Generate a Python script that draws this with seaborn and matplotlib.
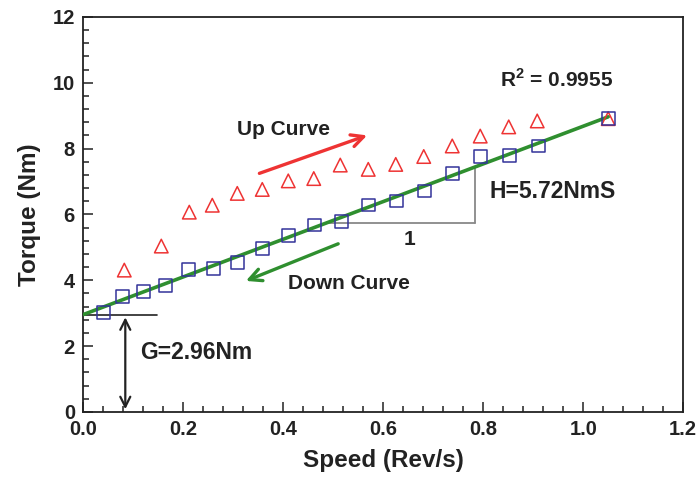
import matplotlib
matplotlib.use("Agg")
import matplotlib.pyplot as plt
from matplotlib.ticker import MultipleLocator
import numpy as np
import pandas as pd
import seaborn as sns

# ---- data ----
down_speed = [0.040, 0.078, 0.121, 0.164, 0.211, 0.260, 0.308, 0.358, 0.410, 0.462,
              0.516, 0.571, 0.626, 0.682, 0.738, 0.795, 0.852, 0.910, 1.050]
down_torque = [3.02, 3.50, 3.65, 3.85, 4.32, 4.35, 4.55, 4.97, 5.37, 5.68,
               5.78, 6.29, 6.41, 6.71, 7.24, 7.76, 7.78, 8.08, 8.91]
up_speed = [0.082, 0.156, 0.212, 0.258, 0.308, 0.358, 0.410, 0.461, 0.514, 0.570,
            0.625, 0.681, 0.738, 0.794, 0.851, 0.908, 1.050]
up_torque = [4.31, 5.04, 6.07, 6.28, 6.64, 6.76, 7.02, 7.09, 7.50, 7.37,
             7.52, 7.76, 8.08, 8.38, 8.66, 8.84, 8.91]
G = 2.96
H = 5.72
fit_speed = [0.0, 1.05]
r2_text = "R$^\\mathbf{2}$ = 0.9955"

sns.set_style("ticks")
plt.rcParams['font.family'] = ['Liberation Sans', 'DejaVu Sans']
plt.rcParams['mathtext.fontset'] = 'custom'
plt.rcParams['mathtext.rm'] = 'Liberation Sans:bold'
plt.rcParams['mathtext.bf'] = 'Liberation Sans:bold'

fig = plt.figure(figsize=(7, 4.83), dpi=100)
ax = fig.add_axes([0.119, 0.147, 0.857, 0.818])

fit_df = pd.DataFrame({"x": fit_speed, "y": [G + H * v for v in fit_speed]})
sns.lineplot(data=fit_df, x="x", y="y", ax=ax, color="#2f8f2f", linewidth=2.6, zorder=3)

down_df = pd.DataFrame({"x": down_speed, "y": down_torque})
up_df = pd.DataFrame({"x": up_speed, "y": up_torque})
sns.scatterplot(data=up_df, x="x", y="y", ax=ax, marker="^", s=95,
                facecolor="none", edgecolor="#ee3333", linewidth=1.1, zorder=4)
sns.scatterplot(data=down_df, x="x", y="y", ax=ax, marker="s", s=85,
                facecolor="none", edgecolor="#33339a", linewidth=1.1, zorder=5)

# slope triangle
x_start = (5.73 - G) / H
ax.plot([x_start, 0.783], [5.73, 5.73], color="#888888", lw=1.3, zorder=2)
ax.plot([0.783, 0.783], [5.73, G + H * 0.783], color="#888888", lw=1.3, zorder=2)
ax.text(0.653, 5.24, "1", fontsize=15, fontweight="bold", ha="center", va="center", color="#222222")

# intercept marker
ax.plot([0.0, 0.147], [G, G], color="#222222", lw=1.2, zorder=2)
ax.annotate("", xy=(0.084, 0.0), xytext=(0.084, G),
            arrowprops=dict(arrowstyle="<->", color="#222222", lw=1.6, mutation_scale=18))
ax.text(0.113, 1.81, "G=2.96Nm", fontsize=16.5, fontweight="bold", ha="left", va="center", color="#222222")

# arrows
ax.annotate("", xy=(0.573, 8.43), xytext=(0.347, 7.22),
            arrowprops=dict(arrowstyle="->", color="#ee3333", lw=2.4, mutation_scale=22))
ax.annotate("", xy=(0.320, 3.95), xytext=(0.515, 5.14),
            arrowprops=dict(arrowstyle="->", color="#2f8f2f", lw=2.4, mutation_scale=22))

ax.text(0.400, 8.59, "Up Curve", fontsize=15, fontweight="bold", ha="center", va="center", color="#222222")
ax.text(0.531, 3.91, "Down Curve", fontsize=15, fontweight="bold", ha="center", va="center", color="#222222")
ax.text(0.813, 6.70, "H=5.72NmS", fontsize=16.5, fontweight="bold", ha="left", va="center", color="#222222")
ax.text(0.833, 10.1, r2_text, fontsize=15, fontweight="bold", ha="left", va="center", color="#222222")

ax.set_xlim(0, 1.2)
ax.set_ylim(0, 12)
ax.xaxis.set_major_locator(MultipleLocator(0.2))
ax.xaxis.set_minor_locator(MultipleLocator(0.04))
ax.yaxis.set_major_locator(MultipleLocator(2))
ax.yaxis.set_minor_locator(MultipleLocator(0.4))
ax.set_xticklabels([f"{v:.1f}" for v in ax.get_xticks()])
ax.tick_params(which="both", direction="in", color="#222222", width=1.1)
ax.tick_params(which="major", length=7, labelsize=14.5, pad=6)
ax.tick_params(which="minor", length=4)
for lab in ax.get_xticklabels() + ax.get_yticklabels():
    lab.set_fontweight("bold")
    lab.set_color("#222222")
for sp in ax.spines.values():
    sp.set_visible(True)
    sp.set_color("#222222")
    sp.set_linewidth(1.3)

ax.set_xlabel("Speed (Rev/s)", fontsize=17.5, fontweight="bold", color="#222222", labelpad=7)
ax.set_ylabel("Torque (Nm)", fontsize=17.5, fontweight="bold", color="#222222", labelpad=8)

fig.savefig("out.png", dpi=100)
